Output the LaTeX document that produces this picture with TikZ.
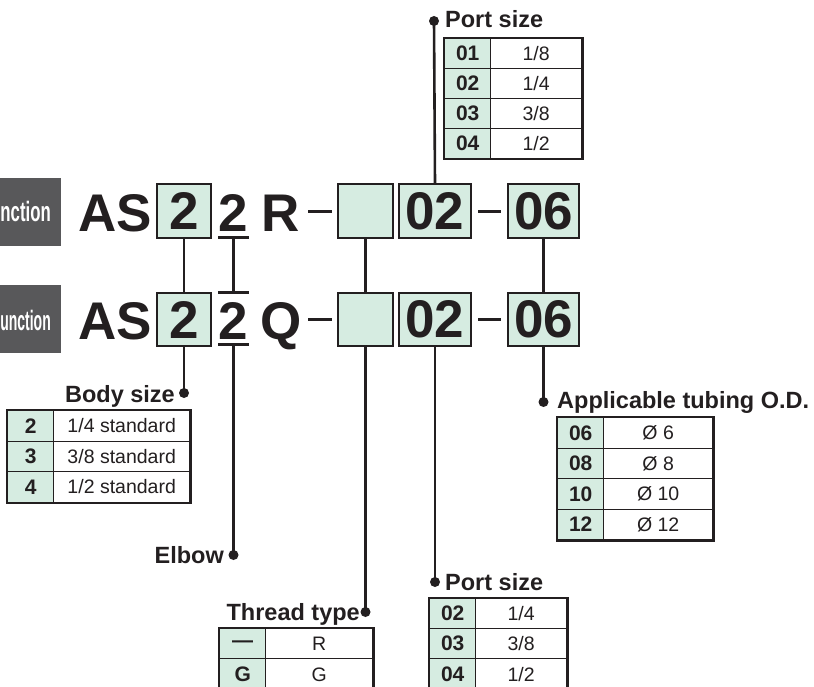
\documentclass[tikz,border=0pt]{standalone}
\usepackage{fontspec}
\setmainfont{Liberation Sans}
\definecolor{ink}{HTML}{231F20}
\definecolor{mint}{HTML}{D6ECE1}
\definecolor{slate}{HTML}{58585A}
\begin{document}
\begin{tikzpicture}[x=1pt,y=-1pt,
  big/.style={font=\fontsize{53}{53}\selectfont\bfseries, text=ink, inner sep=0pt},
  codebox/.style={draw=ink, fill=mint, line width=2pt, minimum height=54pt, inner sep=0pt, font=\fontsize{53}{53}\selectfont\bfseries, text=ink},
  bar/.style={draw=ink, line width=3pt},
  conn/.style={draw=ink, line width=2.6pt},
  dotc/.style={circle, fill=ink, inner sep=0pt, minimum size=10pt},
  lab/.style={font=\fontsize{23.5}{24}\selectfont\bfseries, text=ink, inner sep=0pt},
  kcell/.style={draw=ink, line width=1.4pt, fill=mint, minimum width=46pt, minimum height=30pt, inner sep=0pt, anchor=north west, font=\fontsize{21}{21}\selectfont\bfseries, text=ink},
  vcell/.style={draw=ink, line width=1.4pt, fill=white, minimum height=30pt, inner sep=0pt, anchor=north west, font=\fontsize{19.5}{20}\selectfont, text=ink},
  frame/.style={draw=ink, line width=2.2pt},
  tag/.style={fill=slate, inner sep=0pt, anchor=north west, text=white, font=\fontsize{28}{28}\selectfont\bfseries}
]
\useasboundingbox (0,0) rectangle (814,687);

% left grey tags
\node[tag, minimum width=61pt, minimum height=68pt] (tagt) at (0,178) {};
\node[tag, minimum width=61pt, minimum height=68pt] (tagb) at (0,285) {};
\node[anchor=base east, inner sep=0pt, text=white, font=\fontsize{28}{28}\selectfont\bfseries] (tagtx) at (51,222) {\scalebox{0.6}[1]{nction}};
\node[anchor=base east, inner sep=0pt, text=white, font=\fontsize{28}{28}\selectfont\bfseries] (tagbx) at (51,330) {\scalebox{0.5}[1]{unction}};

% top row
\node[big, anchor=base west] (ast) at (78,232) {AS};
\node[codebox, minimum width=54pt] (b2t) at (184,211) {2};
\node[big, anchor=base] (u2t) at (233.5,232) {2};
\node[big, anchor=base west] (rt) at (261,232) {R};
\coordinate (d1ta) at (308,212); \coordinate (d1tb) at (332,212);
\node[codebox, minimum width=55pt] (et) at (365.5,211) {};
\node[codebox, minimum width=72pt] (pt) at (435,211) {02};
\coordinate (d2ta) at (478,212); \coordinate (d2tb) at (501,212);
\node[codebox, minimum width=71pt] (tt) at (543.5,211) {06};
\draw[bar] (d1ta) -- (d1tb);
\draw[bar] (d2ta) -- (d2tb);
\coordinate (ult1) at (218,238); \coordinate (ult2) at (249,238);
\draw[bar] (ult1) -- (ult2);

% bottom row
\node[big, anchor=base west] (asb) at (78,339) {AS};
\node[codebox, minimum width=54pt, minimum height=53pt] (b2b) at (184,319.5) {2};
\node[big, anchor=base] (u2b) at (233.5,339) {2};
\node[big, anchor=base west] (qb) at (260,339) {Q};
\coordinate (d1ba) at (308,319); \coordinate (d1bb) at (332,319);
\node[codebox, minimum width=55pt, minimum height=53pt] (eb) at (365.5,319.5) {};
\node[codebox, minimum width=72pt, minimum height=53pt] (pb) at (435,319.5) {02};
\coordinate (d2ba) at (478,319); \coordinate (d2bb) at (501,319);
\node[codebox, minimum width=71pt, minimum height=53pt] (tb) at (543.5,319.5) {06};
\draw[bar] (d1ba) -- (d1bb);
\draw[bar] (d2ba) -- (d2bb);
\coordinate (olb1) at (218,292); \coordinate (olb2) at (249,292);
\coordinate (ulb1) at (218,344); \coordinate (ulb2) at (249,344);
\draw[bar] (olb1) -- (olb2);
\draw[bar] (ulb1) -- (ulb2);
\coordinate (ultm) at (233.5,238); \coordinate (olbm) at (233.5,292); \coordinate (ulbm) at (233.5,344);

% dots
\node[dotc] (dport1) at (434,21) {};
\node[dotc] (dbody) at (184,393) {};
\node[dotc] (delbow) at (233.5,555) {};
\node[dotc] (dthread) at (365.5,612) {};
\node[dotc] (dport2) at (435,582) {};
\node[dotc] (dtube) at (543.5,402) {};

% connectors
\draw[conn] (dport1.center) -- (pt.north);
\draw[conn] (b2t.south) -- (b2b.north);
\draw[conn] (b2b.south) -- (dbody.center);
\draw[conn] (ultm) -- (olbm);
\draw[conn] (ulbm) -- (delbow.center);
\draw[conn] (et.south) -- (eb.north);
\draw[conn] (eb.south) -- (dthread.center);
\draw[conn] (pb.south) -- (dport2.center);
\draw[conn] (tt.south) -- (tb.north);
\draw[conn] (tb.south) -- (dtube.center);

% labels
\node[lab, anchor=base west] (lport1) at (445,28) {Port size};
\node[lab, anchor=base east] (lbody) at (175,402) {Body size};
\node[lab, anchor=base east] (lelbow) at (224,563) {Elbow};
\node[lab, anchor=base east] (lthread) at (360,620) {Thread type};
\node[lab, anchor=base west] (lport2) at (445,590) {Port size};
\node[lab, anchor=base west] (ltube) at (557,408) {Applicable tubing O.D.};

% table: port size (top)
\node[kcell] (pa1) at (444,38) {01};
\node[vcell, minimum width=91pt] (pa1v) at (490,38) {1/8};
\node[kcell] (pa2) at (444,68) {02};
\node[vcell, minimum width=91pt] (pa2v) at (490,68) {1/4};
\node[kcell] (pa3) at (444,98) {03};
\node[vcell, minimum width=91pt] (pa3v) at (490,98) {3/8};
\node[kcell] (pa4) at (444,128) {04};
\node[vcell, minimum width=91pt] (pa4v) at (490,128) {1/2};
\draw[frame] (pa1.north west) rectangle (pa4v.south east);

% table: body size
\node[kcell, minimum height=30.5pt] (bs1) at (7,410) {2};
\node[vcell, minimum width=136pt, minimum height=30.5pt] (bs1v) at (53,410) {1/4 standard};
\node[kcell, minimum height=30.5pt] (bs2) at (7,440.5) {3};
\node[vcell, minimum width=136pt, minimum height=30.5pt] (bs2v) at (53,440.5) {3/8 standard};
\node[kcell, minimum height=30.5pt] (bs3) at (7,471) {4};
\node[vcell, minimum width=136pt, minimum height=30.5pt] (bs3v) at (53,471) {1/2 standard};
\draw[frame] (bs1.north west) rectangle (bs3v.south east);

% table: tubing
\node[kcell, minimum height=30.5pt] (tu1) at (557,417) {06};
\node[vcell, minimum width=109pt, minimum height=30.5pt] (tu1v) at (603,417) {Ø 6};
\node[kcell, minimum height=30.5pt] (tu2) at (557,447.5) {08};
\node[vcell, minimum width=109pt, minimum height=30.5pt] (tu2v) at (603,447.5) {Ø 8};
\node[kcell, minimum height=30.5pt] (tu3) at (557,478) {10};
\node[vcell, minimum width=109pt, minimum height=30.5pt] (tu3v) at (603,478) {Ø 10};
\node[kcell, minimum height=30.5pt] (tu4) at (557,508.5) {12};
\node[vcell, minimum width=109pt, minimum height=30.5pt] (tu4v) at (603,508.5) {Ø 12};
\draw[frame] (tu1.north west) rectangle (tu4v.south east);

% table: thread type (cut at bottom)
\node[kcell] (th1) at (219,628) {—};
\node[vcell, minimum width=107pt] (th1v) at (265,628) {R};
\node[kcell, minimum height=32pt] (th2) at (219,658) {G};
\node[vcell, minimum width=107pt, minimum height=32pt] (th2v) at (265,658) {G};
\draw[frame] (th1.north west) rectangle (th2v.south east);

% table: port size (bottom, cut at bottom)
\node[kcell] (pc1) at (429,598) {02};
\node[vcell, minimum width=91pt] (pc1v) at (475,598) {1/4};
\node[kcell, minimum height=29.5pt] (pc2) at (429,628) {03};
\node[vcell, minimum width=91pt, minimum height=29.5pt] (pc2v) at (475,628) {3/8};
\node[kcell, minimum height=33pt] (pc3) at (429,657.5) {04};
\node[vcell, minimum width=91pt, minimum height=33pt] (pc3v) at (475,657.5) {1/2};
\draw[frame] (pc1.north west) rectangle (pc3v.south east);
\end{tikzpicture}
\end{document}
